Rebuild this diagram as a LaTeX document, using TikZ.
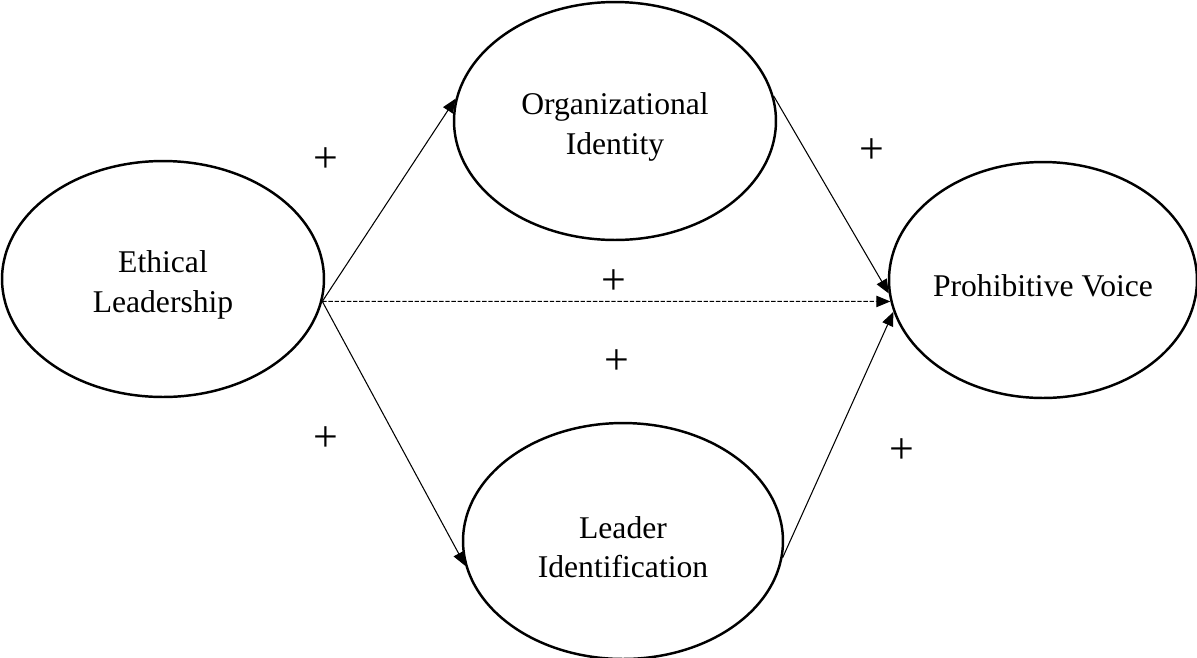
\documentclass[tikz,border=0pt]{standalone}
\usepackage{fontspec}
\setmainfont{Liberation Serif}
\usetikzlibrary{shapes.geometric,arrows.meta}

\begin{document}
\begin{tikzpicture}[x=0.02cm,y=-0.02cm,
    var/.style={ellipse,draw,line width=1.4pt,inner sep=0pt,
                minimum width=6.44cm,minimum height=4.72cm,
                label={[align=center,yshift=-0.12cm]center:{#1}}},
    freccia/.style={line width=0.6pt,-{Triangle[length=8pt,width=6.5pt]}},
    segno/.style={inner sep=1pt,font=\fontsize{25}{25}\selectfont}]
  \fontsize{18}{22.5}\selectfont
  \useasboundingbox (0,0) rectangle (1197,657);

  % ---- costrutti -----------------------------------------------------------
  \node[var={Ethical\\Leadership}] (el) at (163,279) {};
  \node[var={Organizational\\Identity},minimum height=4.76cm] (oi) at (615,121) {};
  \node[var={Leader\\Identification},minimum width=6.4cm] (li) at (623,541) {};
  \node[var={Prohibitive Voice},minimum width=6.16cm] (pv) at (1043,280) {};

  % ---- frecce --------------------------------------------------------------
  \draw[freccia] (el.352) -- (oi.172);
  \draw[freccia] (el.352) -- (li.189);
  \draw[freccia,dash pattern=on 2.5pt off 1pt] (el.352) -- (pv.188);
  \draw[freccia] (oi.9)   -- (pv.185);
  \draw[freccia] (li.354) -- (pv.192);

  % ---- segni ---------------------------------------------------------------
  \node[segno] (s1) at (326,160) {+};
  \node[segno] (s2) at (872,151) {+};
  \node[segno] (s3) at (614,282) {+};
  \node[segno] (s4) at (617,362) {+};
  \node[segno] (s5) at (326,439) {+};
  \node[segno] (s6) at (902,451) {+};
\end{tikzpicture}
\end{document}
